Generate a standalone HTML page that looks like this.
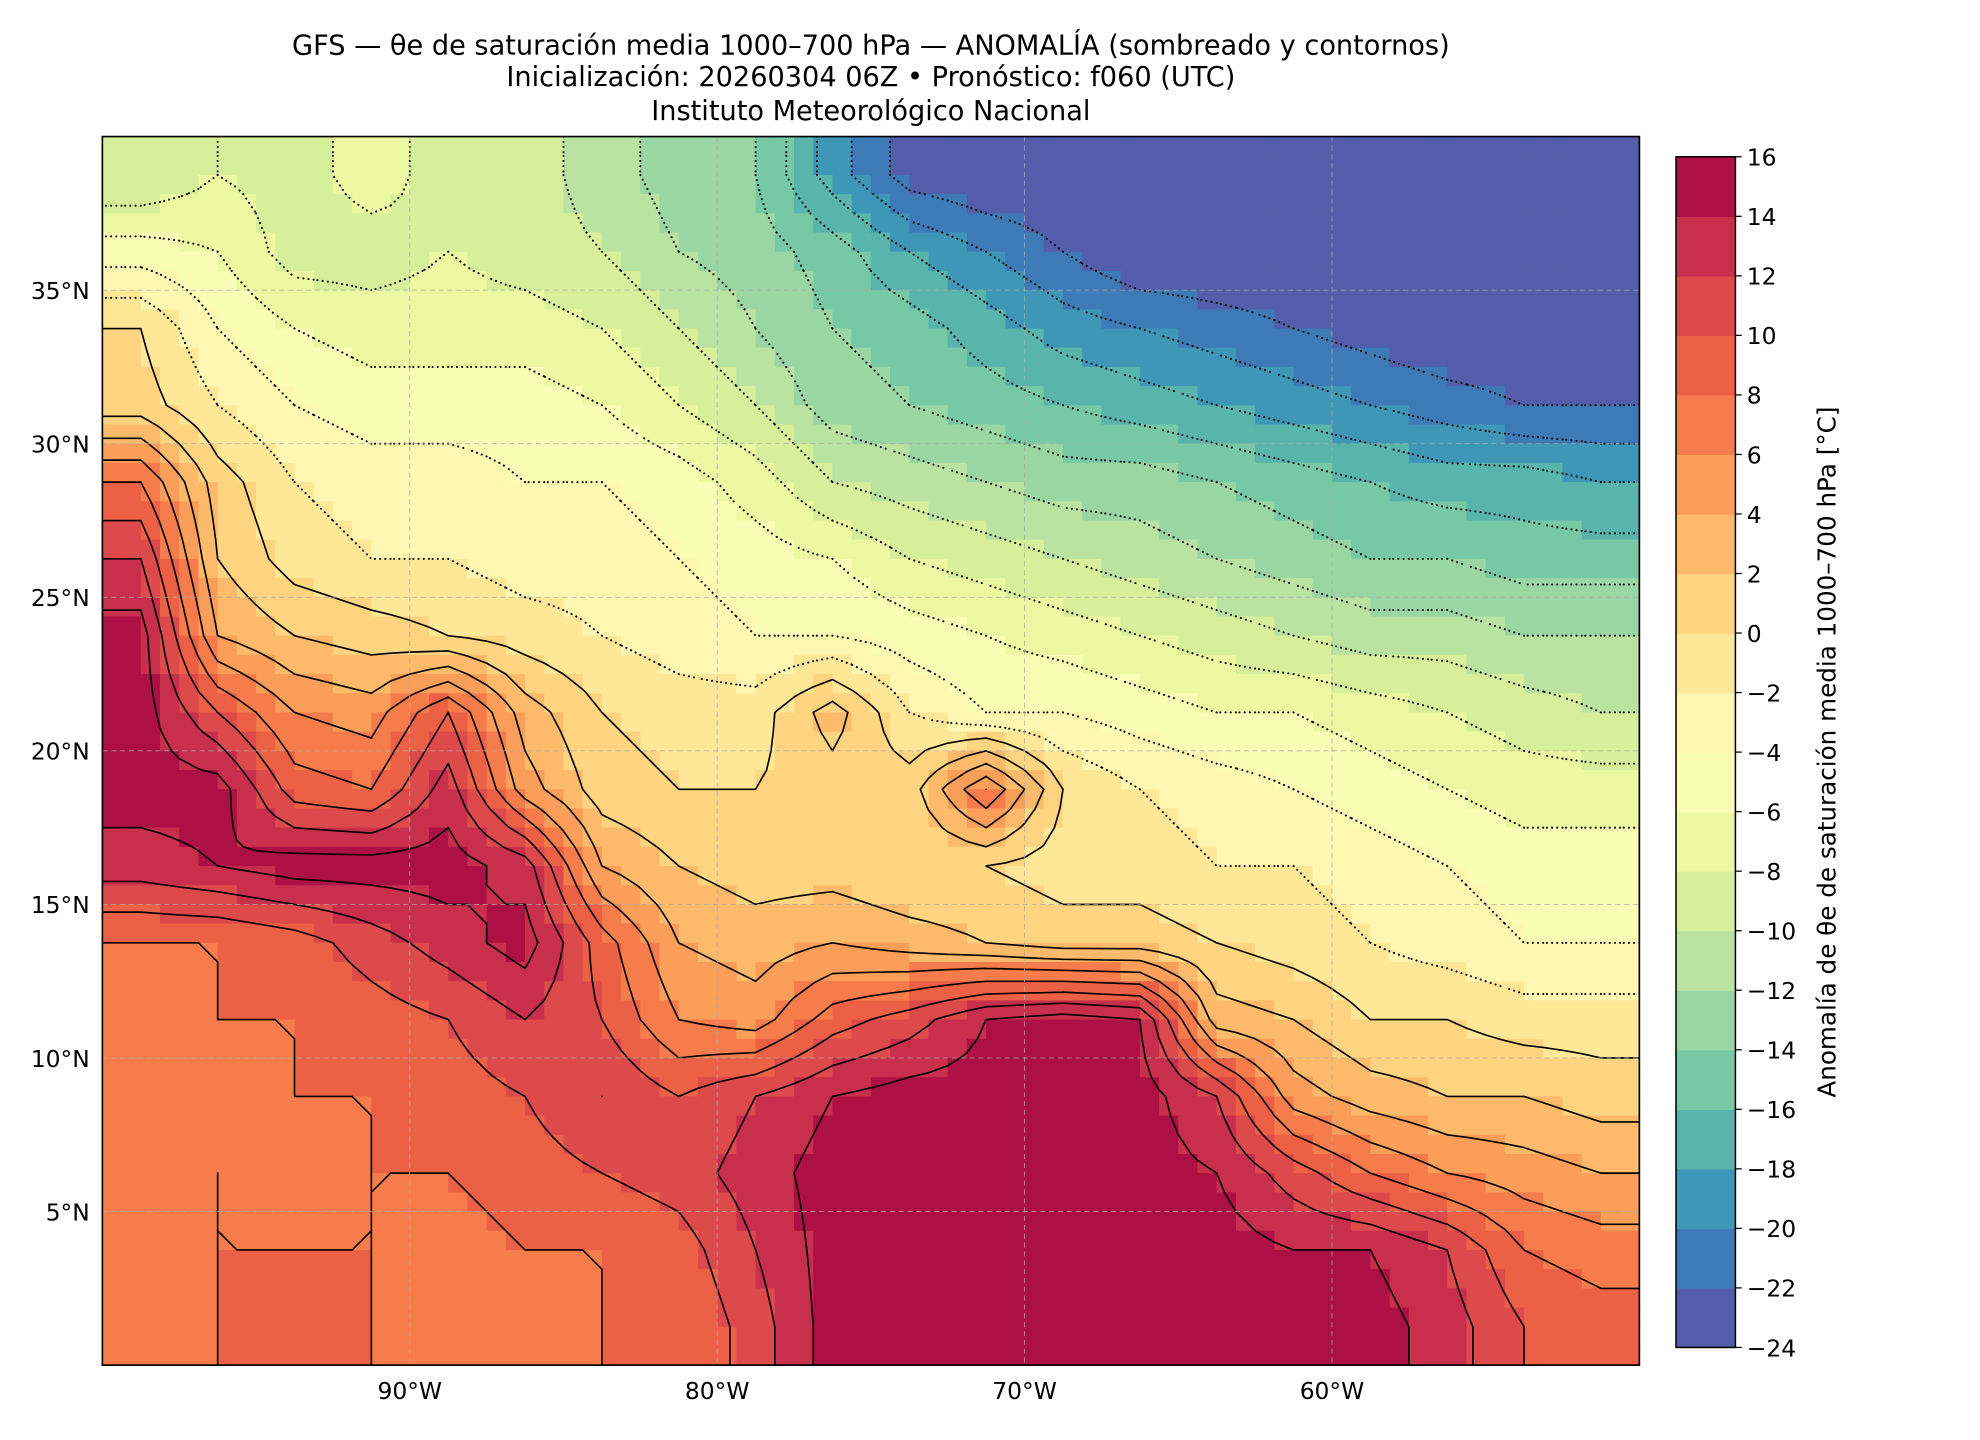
<!DOCTYPE html>
<html><head><meta charset="utf-8"><style>
html,body{margin:0;padding:0;background:#fff;}
svg{display:block;font-family:"DejaVu Sans","Liberation Sans",sans-serif;}
</style></head><body>
<svg id="fig" width="1980" height="1440" viewBox="0 0 1566.5 1139.2" xmlns="http://www.w3.org/2000/svg">
<g font-size="21.5" text-anchor="middle" fill="#000">
<text x="689" y="43">GFS — θe de saturación media 1000–700 hPa — ANOMALÍA (sombreado y contornos)</text>
<text x="689" y="68">Inicialización: 20260304 06Z   •   Pronóstico: f060 (UTC)</text>
<text x="689" y="95">Instituto Meteorológico Nacional</text>
</g>
<defs><clipPath id="pc"><rect x="81" y="108" width="1216" height="972"/></clipPath></defs>
<g id="map"></g>
<g id="contours" clip-path="url(#pc)"></g>
<g id="grid"></g>
<rect x="81" y="108" width="1216" height="972" fill="none" stroke="#000" stroke-width="1.3"/>
<g id="xaxis" font-size="18.5" text-anchor="middle"></g>
<g id="yaxis" font-size="18.5" text-anchor="end"></g>
<g id="cbar" font-size="18.5"></g>
<text font-size="19.5" text-anchor="middle" transform="translate(1452,595) rotate(-90)">Anomalía de θe de saturación media 1000–700 hPa [°C]</text>
</svg>
<script>
const lonTicks=[-90,-80,-70,-60];
const lonLabels=["90°W","80°W","70°W","60°W"];
const latTicks=[5,10,15,20,25,30,35];
const latLabels=["5°N","10°N","15°N","20°N","25°N","30°N","35°N"];
const levels=[-24,-22,-20,-18,-16,-14,-12,-10,-8,-6,-4,-2,0,2,4,6,8,10,12,14,16];
const levelLabels=["−24","−22","−20","−18","−16","−14","−12","−10","−8","−6","−4","−2","0","2","4","6","8","10","12","14","16"];
// grid: rows lat 38.75 -> 1.25 (2.5°), cols lon -98.75 -> -51.25
const row0=[-10,-8,-9,-7,-9,-9,-11,-13,-14,-19,-23,-24,-24,-24,-24,-24,-24,-24,-24,-24];
const row1=[-5,-6,-9,-9,-8,-9,-10,-12,-13,-15,-18,-20,-22,-24,-24,-24,-24,-24,-24,-24];
const row2=[0,-4,-6,-7,-7,-7,-8,-10,-12,-14,-15,-17,-19,-20,-21,-22,-23,-24,-24,-24];
const row3=[1,-2,-4,-5,-5,-5,-6,-8,-10,-13,-14,-15,-16,-17,-18,-19,-20,-21,-22,-22];
const row4=[8,1,-2,-3,-3,-4,-4,-5,-7,-10,-11,-12,-13,-13,-14,-15,-16,-17,-17,-18];
const row5=[12,2,-1,-2,-2,-3,-3,-4,-5,-6,-8,-9,-10,-11,-12,-13,-14,-14,-15,-15];
const row6=[15,4,2,1,0,-1,-2,-3,-4,-4,-5,-6,-7,-8,-9,-10,-11,-11,-12,-12];
const row7=[15,10,6,5,10,3,0,-1,-1,3,-2,-4,-4,-5,-6,-6,-7,-8,-9,-10];
const row8=[15,15,9,8,13,5,1,0,0,1,1,8,0,-2,-3,-4,-5,-6,-7,-7];
const row9=[13,14,15,15,15,13,4,2,1,1,0,0,-1,-1,-2,-2,-3,-4,-5,-5];
const row10=[8,8,9,11,13,15,9,4,3,4,3,2,1,1,0,-1,-2,-3,-4,-4];
const row11=[7,8,8,9,10,12,10,6,5,9,11,14,15,14,3,2,0,0,-1,-1];
const row12=[7,7,8,8,9,10,12,10,12,14,15,15,15,15,12,5,3,2,2,1];
const row13=[7,8,7,8,8,9,10,11,13,15,15,15,15,15,14,11,8,6,5,4];
const row14=[7,8,8,8,7,8,8,9,12,15,15,15,15,15,15,14,14,12,8,7];
const row15=[7,8,9,8,7,7,8,8,11,15,15,15,15,15,15,15,15,13,10,9];
const rows=[row0,row1,row2,row3,row4,row5,row6,row7,row8,row9,row10,row11,row12,row13,row14,row15];

const NS="http://www.w3.org/2000/svg";
const L=81,R=1297,T=108,B=1080,lonMin=-100,lonMax=-50,latMin=0,latMax=40;
function xs(lon){return L+(lon-lonMin)/(lonMax-lonMin)*(R-L);}
function ys(lat){return B-(lat-latMin)/(latMax-latMin)*(B-T);}
function mk(tag,attrs,parent){const e=document.createElementNS(NS,tag);for(const k in attrs)e.setAttribute(k,attrs[k]);parent.appendChild(e);return e;}
const stops=["#9e0142","#d53e4f","#f46d43","#fdae61","#fee08b","#ffffbf","#e6f598","#abdda4","#66c2a5","#3288bd","#5e4fa2"];
function hex(h){return [1,3,5].map(i=>parseInt(h.substr(i,2),16));}
function spectral(t){t=Math.max(0,Math.min(1,t));const p=(1-t)*10,i=Math.min(9,Math.floor(p)),f=p-i;const a=hex(stops[i]),b=hex(stops[i+1]);return "rgb("+a.map((v,k)=>Math.round(v+(b[k]-v)*f)).join(",")+")";}
const nb=levels.length-1;
function colorFor(v){let i=Math.floor((v-levels[0])/2);i=Math.max(0,Math.min(nb-1,i));return spectral((i+0.5)/nb);}
function field(lon,lat){
  const c=(lon-(-98.75))/2.5, r=(38.75-lat)/2.5;
  const c0=Math.max(0,Math.min(18,Math.floor(c))), r0=Math.max(0,Math.min(14,Math.floor(r)));
  const fc=Math.max(0,Math.min(1,c-c0)), fr=Math.max(0,Math.min(1,r-r0));
  const a=rows[r0][c0],b=rows[r0][c0+1],d=rows[r0+1][c0],e=rows[r0+1][c0+1];
  return a*(1-fc)*(1-fr)+b*fc*(1-fr)+d*(1-fc)*fr+e*fc*fr;
}
const map=document.getElementById('map');
const step=0.625;
for(let lat=latMax;lat>latMin;lat-=step){
  for(let lon=lonMin;lon<lonMax;lon+=step){
    const v=field(lon+step/2,lat-step/2);
    const x0=xs(lon),x1=xs(lon+step),y0=ys(lat),y1=ys(lat-step);
    const r=mk('rect',{x:x0.toFixed(2),y:y0.toFixed(2),width:(x1-x0+0.6).toFixed(2),height:(y1-y0+0.6).toFixed(2),fill:colorFor(v)},map);
    
    
  }
}
const cg=document.getElementById('contours');
const cs=0.625, nx=Math.round(50/cs), ny=Math.round(40/cs);
const F=[];
for(let j=0;j<=ny;j++){F.push([]);for(let i=0;i<=nx;i++)F[j].push(field(lonMin+i*cs,latMax-j*cs));}
levels.slice(1,-1).forEach(lv=>{
  let d="";
  for(let j=0;j<ny;j++)for(let i=0;i<nx;i++){
    const c=[[i,j,F[j][i]],[i+1,j,F[j][i+1]],[i+1,j+1,F[j+1][i+1]],[i,j+1,F[j+1][i]]];
    const pts=[];
    for(let k=0;k<4;k++){const a=c[k],b=c[(k+1)%4];
      if((a[2]<lv)!==(b[2]<lv)){const t=(lv-a[2])/(b[2]-a[2]);
        const gi=a[0]+(b[0]-a[0])*t, gj=a[1]+(b[1]-a[1])*t;
        pts.push([xs(lonMin+gi*cs),ys(latMax-gj*cs)]);}}
    for(let k=0;k+1<pts.length;k+=2)d+="M"+pts[k][0].toFixed(1)+" "+pts[k][1].toFixed(1)+"L"+pts[k+1][0].toFixed(1)+" "+pts[k+1][1].toFixed(1);
  }
  if(!d)return;
  const p=mk('path',{d:d,fill:'none',stroke:'#000','stroke-width':lv<0?1.6:1.3,'stroke-linecap':'round'},cg);
  if(lv<0)p.setAttribute('stroke-dasharray','0.1,4');
  
  
});
const grid=document.getElementById('grid');
lonTicks.forEach(lon=>{const l=mk('line',{x1:xs(lon),x2:xs(lon),y1:T,y2:B,stroke:'#aaa','stroke-width':0.6,'stroke-dasharray':'4,3'},grid);

});
latTicks.forEach(lat=>{const l=mk('line',{x1:L,x2:R,y1:ys(lat),y2:ys(lat),stroke:'#aaa','stroke-width':0.6,'stroke-dasharray':'4,3'},grid);

});
const xa=document.getElementById('xaxis');
lonTicks.forEach((lon,i)=>{const t=mk('text',{x:xs(lon),y:B+27},xa);t.textContent=lonLabels[i];

});
const ya=document.getElementById('yaxis');
latTicks.forEach((lat,i)=>{const t=mk('text',{x:L-10,y:ys(lat)+7},ya);t.textContent=latLabels[i];

});
const cb=document.getElementById('cbar');
const cL=1326,cR=1373,cT=124,cB=1066;
function cy(v){return cB-(v-levels[0])/(levels[nb]-levels[0])*(cB-cT);}
for(let i=0;i<nb;i++){
  const r=mk('rect',{x:cL,y:cy(levels[i+1]),width:cR-cL,height:cy(levels[i])-cy(levels[i+1])+0.5,fill:spectral((i+0.5)/nb)},cb);
  
  
}
mk('rect',{x:cL,y:cT,width:cR-cL,height:cB-cT,fill:'none',stroke:'#000','stroke-width':1.2},cb);
levels.forEach((v,i)=>{
  mk('line',{x1:cR,x2:cR+5,y1:cy(v),y2:cy(v),stroke:'#000','stroke-width':1},cb);
  const t=mk('text',{x:cR+9,y:cy(v)+7},cb);t.textContent=levelLabels[i];
  
  
});
</script>
</body></html>
